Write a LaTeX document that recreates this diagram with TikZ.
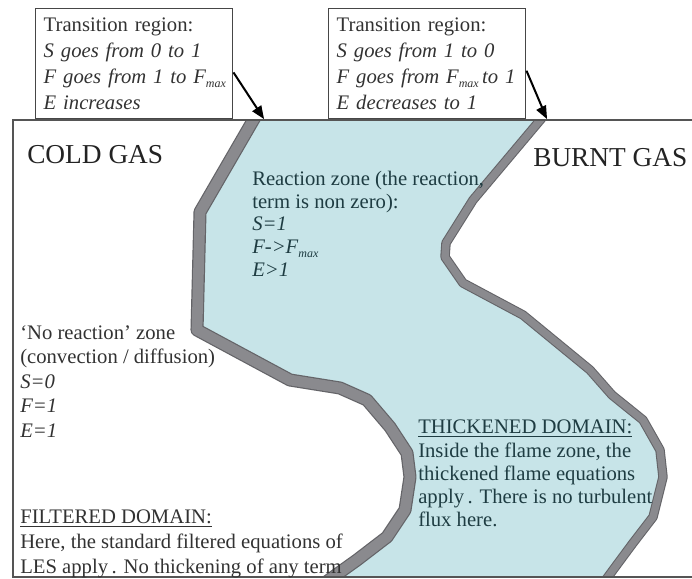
\documentclass[tikz,border=0pt]{standalone}
\usepackage{fontspec}
\setmainfont{Liberation Serif}
\newcommand{\fmaxsub}{\raisebox{-0.45ex}{\fontsize{9}{9}\selectfont max}}
\begin{document}
\begin{tikzpicture}[x=0.75pt,y=0.75pt,yscale=-1,xscale=1,
  infobox/.style={draw={rgb, 255:red, 70; green, 70; blue, 70 }, line width=1.1, text={rgb, 255:red, 50; green, 50; blue, 50 }, anchor=north west, align=left, text width=135.75pt, inner xsep=6pt, inner ysep=0pt, minimum width=147.75pt, minimum height=82.5pt, font=\fontsize{15.5}{19.5}\selectfont},
  gastxt/.style={anchor=base west, inner sep=0pt, text={rgb, 255:red, 35; green, 35; blue, 35 }, font=\fontsize{20.5}{24}\selectfont},
  coldtxt/.style={anchor=north west, inner sep=0pt, align=left, text={rgb, 255:red, 50; green, 50; blue, 50 }},
  hottxt/.style={anchor=north west, inner sep=0pt, align=left, text={rgb, 255:red, 30; green, 60; blue, 66 }},
  frontline/.style={line join=round, draw={rgb, 255:red, 100; green, 100; blue, 104 }, double={rgb, 255:red, 138; green, 138; blue, 142 }}
]
\useasboundingbox (0,0) rectangle (692,578);

\begin{scope}
\clip (13,120) rectangle (692,577);
%Shape: Polygon
\path [fill={rgb, 255:red, 199; green, 228; blue, 232 }] (258,112) -- (200,212) -- (197,330) -- (290,380) -- (340,388) -- (367,400) -- (390,427) -- (407,453) -- (410,477) -- (405,510) -- (387,537) -- (357,560) -- (322,585) -- (602,585) -- (613,570) -- (633,543) -- (653,517) -- (663,477) -- (660,450) -- (643,420) -- (612,395) -- (590,370) -- (523,315) -- (463,283) -- (445,257) -- (446,243) -- (473,200) -- (547,112) -- cycle ;
%Curve Lines
\draw [frontline, line width=0.9, double distance=8pt] (258,112) -- (200,212) -- (197,330) -- (290,380) -- (340,388) -- (367,400) -- (390,427) -- (407,453) -- (410,477) -- (405,510) -- (387,537) -- (357,560) -- (322,585) ;
%Curve Lines
\draw [frontline, line width=0.8, double distance=5.5pt] (547,112) -- (473,200) -- (446,243) -- (445,257) -- (463,283) -- (523,315) -- (590,370) -- (612,395) -- (643,420) -- (660,450) -- (663,477) -- (653,517) -- (633,543) -- (613,570) -- (602,585) ;
\end{scope}

%Straight Lines
\draw [color={rgb, 255:red, 85; green, 85; blue, 85 }, line width=1.2] (692,120) -- (13,120) -- (13,577) -- (692,577) ;

% Text Node
\node [infobox] (box1) at (35,8) {\mbox{Transition region:}\\\mbox{\textit{S goes from 0 to 1}}\\\mbox{\textit{F goes from 1 to F\fmaxsub}}\\\mbox{\textit{E increases}}};
% Text Node
\node [infobox] (box2) at (328,8) {\mbox{Transition region:}\\\mbox{\textit{S goes from 1 to 0}}\\\mbox{\textit{F goes from F\fmaxsub\,to 1}}\\\mbox{\textit{E decreases to 1}}};

\coordinate (tipL) at (264,119);
\coordinate (tipR) at (547,119);
%Straight Lines
\draw [line width=1.5, shorten >=5pt] (box1.-5) -- (tipL) ;
\draw [shift={(tipL)}, rotate = 236] [fill={rgb, 255:red, 0; green, 0; blue, 0 }  ][line width=0.08]  [draw opacity=0] (13,-5.5) -- (0,0) -- (13,5.5) -- cycle    ;
%Straight Lines
\draw [line width=1.5, shorten >=5pt] (box2.-4) -- (tipR) ;
\draw [shift={(tipR)}, rotate = 243] [fill={rgb, 255:red, 0; green, 0; blue, 0 }  ][line width=0.08]  [draw opacity=0] (13,-5.5) -- (0,0) -- (13,5.5) -- cycle    ;

% Text Node
\node [gastxt] (cold) at (27,163) {COLD GAS};
% Text Node
\node [gastxt] (burnt) at (533,166) {BURNT GAS};
% Text Node
\node [hottxt, font=\fontsize{15.5}{17}\selectfont] (react) at (252,171) {Reaction zone (the reaction,\\term is non zero):\\\textit{S=1}\\\textit{F->F\fmaxsub}\\\textit{E>1}};
% Text Node
\node [coldtxt, font=\fontsize{15.5}{18.4}\selectfont] (noreact) at (20,325) {`No reaction' zone\\(convection / diffusion)\\\textit{S=0}\\\textit{F=1}\\\textit{E=1}};
% Text Node
\node [coldtxt, font=\fontsize{15.5}{18.75}\selectfont] (filtered) at (20,510) {\underline{FILTERED DOMAIN:}\\Here, the standard filtered equations of\\LES apply\,. No thickening of any term};
% Text Node
\node [hottxt, font=\fontsize{15.5}{17.4}\selectfont] (thick) at (418,420) {\underline{THICKENED DOMAIN:}\\Inside the flame zone, the\\thickened flame equations\\apply\,. There is no turbulent\\flux here.};

\end{tikzpicture}
\end{document}
